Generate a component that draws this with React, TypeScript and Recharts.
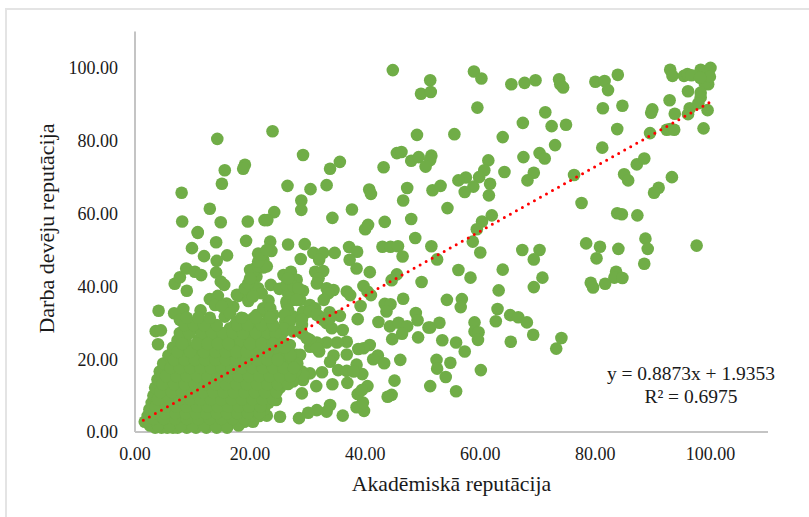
import { ScatterChart, Scatter, XAxis, YAxis, Label } from 'recharts'

const FONT = '"Liberation Serif", "Times New Roman", serif'
const TEXT = '#1a1a1a'
const AXIS = '#c4c4c4'
const GREEN = '#70ad47'

const xTicks = [0, 20, 40, 60, 80, 100]
const yTicks = [0, 20, 40, 60, 80, 100]

// scattered points, upper part of the plot
const upperX = [44.8,51.3,49.7,51.4,23.9,14.3,49,55.5,29.2,35.6,33.9,15.6,19.1,18.8,43.2,45.5,46.3,48,49.3,51.5,51.3,50.5,15.1,8.1,26.5,30.5,33.3,40.7,41,47.3,51.7,53.1,28.9,28.9,13,8.2,14.9,19.6,24.2,22.5,23,34.3,37.7,43.4,48,46.6,54.3,10.9,40.5,40]
const upperY = [99.4,96.6,92.9,93.4,82.6,80.5,81.6,81.8,76.1,74.2,72.3,71.9,73.4,72.3,72.7,76.6,76.9,74.5,75.5,75.9,74.7,72.9,68.2,65.7,67.6,66.7,67.8,66.6,65.4,67,66.4,67.6,63.6,61,61.3,57.8,57.6,57.8,60.4,58.2,58.2,58.8,61.1,57.7,58.5,63.6,61.5,54.9,56.9,55.7]

// upper right, including the clump near 100
const rightX = [58.9,60.2,65.4,67.7,69.6,73.7,73.9,74.4,80,81.6,82.2,83.9,93,93.4,95.4,96,96.7,98.3,100,98.7,99.3,99.6,99,99.9,98.2,96.1,98.3,98.3,59.5,81.3,84.7,89.9,89.7,92.9,93.8,71.3,67.4,72.4,74.9,83.8,89.5,92.4,93,93.7,96.4,96.1,97.9,99.5,98.8,63.9,73,81.2,67.5,70.3,71.2,61.4,60.7,59.8,57.5,56.2,64.2,69.3,68.2,76.3,85,85.7,87.2,88.5,93.3,91,90.2,61.7,58.8,57.3,61.5,77.6,83.8,84.6,87.3,62,60.3,59.4]
const rightY = [99,97.1,95.5,95.9,96.6,96.9,95.5,94.6,96.2,96.4,93.9,98.1,99.5,97.8,97.8,98.3,98,99.5,100,98,96.9,95.5,95.8,97.6,97.3,93.6,93.2,91.9,89.1,88.9,89.6,88.6,87.7,91.1,87.4,87.8,84.9,84,84.4,83.2,82.1,83,83.2,83,88.9,87.3,90.3,88.4,83.4,81,78.8,78.1,75.5,76.6,75.1,74.6,71.9,70,69.9,69.1,71.4,71.2,69.1,70.6,70.8,69.1,73.5,75.1,70,67.1,65.7,68.2,67.4,65.9,65,62.9,60.1,59.8,59.5,59.5,57.8,55.7]

// lower right of the plot
const lowerX = [51.5,58.7,60,52.5,67.3,70.3,69.3,78.4,80.8,84,88.7,89.1,97.6,80.2,88.5,56.2,58.3,63.9,70.8,69.3,63.2,83.6,83.3,84.7,81.7,79.2,79.6,54.2,56.8,56.6,63,65.2,66.6,68.1,62.7,69.2,65.3,74.1,73.2,52.9,51.3,59,59,59.7,59.6,53.4,55.8,57.3,52.4,54.8,52.5,54,60.1,51.3,55.8]
const lowerY = [51,52.3,49.3,47.4,50,50,47.4,51.8,50.9,50.3,53.1,50.3,51.2,47.7,46.2,44.5,42.4,44.6,42.4,39.8,38.9,44,42.4,42.3,40.7,41,39.7,36.3,36.5,34.3,33.8,32.1,31.5,30.1,30.4,26.7,24.8,25.8,22.9,30,28.7,30.1,27.6,27.4,25.3,25.2,24.6,22.1,19.8,19,17.4,15.1,17,12.6,11.2]

// middle of the plot
const midX = [10.9,14.1,19.3,23.5,26.6,29.5,9.9,12,16,14.2,23.7,21.4,22.3,28.8,31,32.7,34.7,32,37.2,38.6,37.3,38.5,43,44.4,45.7,46.5,48.7,40.8,45.5,44.6,49.8,39.7,40.4,41,46.6,39.2,43.4,44.4,43.7,38.7,35.6,42.3,44.3,45.8,47.3,46.4,44.7,48.8,49.1,51,49.2,40.8,39.7,38.8,42.2,41.4,43.3,46.1,45.1,44.6,43.9,36.1,39.8,38.5,39.6,38.7,40.4,39.4,39.5,38.5,36.8,36.8,35.1,33.3,31.6,32,30.4,34.5,33.9,35.3,36.8,38,36.9,34.3,32.5,30.4,31.5,29,33.9,33.3,31.6,30.1,28.5,25.2,22.9,24.5]
const midY = [54.7,52.1,52.5,52.3,51.5,51.6,50.5,48.3,48.5,47,49.7,49,47.3,47.5,49.2,49.2,49.2,47.3,50.8,49.5,47.3,44.9,50.9,50.9,51,48.2,53.3,43.9,43.3,41.7,41.2,40.1,38.6,37.6,36.6,34.6,35.2,35.1,33.1,31,31.9,30.2,29,30,29,27,25.5,32.7,30.7,28.7,26,23.9,23,22.8,21,20,18.9,19.8,14.1,10.2,9.7,4.5,5.8,6.8,8.1,10.4,12.6,11.5,15.9,18.5,21.3,24.8,24.6,24.6,24.6,22.1,23.4,21,19.3,17,16.8,16.6,13.5,13.1,16.4,16.1,12.6,10.6,7.4,5.6,6,5.3,3.8,4.2,4.5,8.8]

// the branching clumps left of the trend line
const clumpX = [4.1,3.6,4.5,4,9,6.9,7.8,8.9,10.4,11.5,14.1,15.5,14.9,13,11.4,8.4,6.8,13,14.4,15.6,17.1,15.9,18,19.4,21.4,19.7,20.6,20,20.9,22.3,21.1,23.6,25.1,25.8,27.1,28.1,26.9,29.2,27.5,28.7,26.4,23.2,22.6,23.5,21.1,18.8,19.4,17.4,17.1,26.9,27.5,26.1,29,30.4,31.3,29.5,32.1,33.8,33.3,34.2,36.1,31.3,32.7,31.9,31.6,33.3,34.5,33.6,32.8,36.8,37.4,30.4,29,26.9,28.1,26.4,24.6,29]
const clumpY = [33.3,27.7,27.9,24.1,38.8,40.7,42.5,44.9,44,43.1,43.8,40.4,41.3,29.8,33.4,33.8,32.6,36.5,37.4,31.7,34.4,35.3,37.4,38.1,39.5,36,41.8,44.5,45,45.2,42.7,40.4,39.3,43.1,44,41.8,40.8,38.8,38.6,36.3,34.9,36.1,33.1,31.2,32.1,31.2,28.5,29.4,26.6,32.1,31.7,30.3,29.4,34.9,34,32.6,31.7,32.9,29.9,28.5,28,44,44.2,42.2,40.8,39.5,39,38.1,36.3,38.6,37.6,25.3,27.1,23.9,21.2,18.4,19.3,16.6]

// bridges that join the clumps to the mass
const bridgeX = [7.8,9,10.7,9.6,11.6,13,13.9,15.1,16.5,17.7,16.5,17.7,17.7,19.1,20.8,22,20.5,19.7,20.6,21.4,22.9,20,21.4,22,22.9,22.3,23.5,24,22.9,21.1,19.4,22.3,24,25.8,20.5,24.9,26.3,27.5,26.6,26.3,27.5,26.6,28.4,28.1,26.6,26,26.9,25.8,27.5,29.2,30.4,29,31.6,32.7,33.9,29.8,31.6,28.7,26.9,28.1,26.3,24.6,29.2,27.5,29.2,24.6,25.8]
const bridgeY = [30.8,29.4,28.5,27.6,27.6,26.7,34.9,34.5,32.6,30.3,28.5,26.7,37.7,39.5,40,38.1,37.2,40.9,44.1,45.5,45.5,42.2,46.8,48.7,50,34,34,32.2,30.3,29.4,27.6,27.6,27.6,27.6,31.2,24.8,35.8,36.3,38.1,40.4,40,42.2,39.5,36.3,33.5,32.2,30.3,28.5,27.6,33.1,33.1,30.8,32.2,30.8,31.3,25.8,23,21.2,20.3,18.4,16.1,14.8,14.3,13.9,15.7,12,13.9]

// solid mass in the lower left corner, estimated row by row
const denseY = [1.2, 2.8, 4.4, 6.2, 8, 10, 12.2, 14.4, 16.6, 18.8, 21, 23.2, 25.2, 27.2, 29.4, 31.4]
const denseX = [
  [3.5,4.6,5.6,6.6,7.4,9,10.6,12.4,14.2,16],
  [1.7,3,5,7,9,11,13,15,17,19,20.5],
  [2.2,4.2,6,8,10,12,14,16,18,20,21.6],
  [2.5,4.4,6.2,8,9.8,11.6,13.4,15.2,17,18.8,20.6,22.4],
  [2.9,5,6.8,8.6,10.4,12.2,14,15.8,17.6,19.4,21.2,23.2],
  [3.2,5.4,7.2,9,10.8,12.6,14.4,16.2,18,19.8,21.6,23.6],
  [3.5,5.6,7.4,9.2,11,12.8,14.6,16.4,18.2,20,21.8,23.6,25.2],
  [3.9,6,7.8,9.6,11.4,13.2,15,16.8,18.6,20.4,22.2,24,25.8,27.4],
  [4.3,6.4,8.2,10,11.8,13.6,15.4,17.2,19,20.8,22.6,24.4,26.2,27.8],
  [4.9,6.8,8.6,10.4,12.2,14,15.8,17.6,19.4,21.2,23,24.8,26.6,28.2],
  [5.8,7.6,9.4,11.2,13,14.8,16.6,18.4,20.2,22,23.8,25.6,27],
  [6.6,8.2,10,11.8,13.6,15.4,17.2,19,20.8,22.6,24.4,26],
  [7.4,8.8,11,13,14.8,16.6,18.4,20.2,22,24,25.4],
  [7.8,9.4,11.6,13.4,15.2,17,18.8,21,23,24.4],
  [8.6,10.2,12,14.2,17.8,19.6,22,24],
  [9,11,13,18.5,21,23.5],
]
const denseOffX = [
  [2.6,4,6,8,10,12,14,16,18],
  [3.2,5,7,9,11,13,15,17,19],
  [3.4,5.2,7,8.8,10.6,12.4,14.2,16,17.8,19.6,21.6],
  [3.6,5.4,7.2,9,10.8,12.6,14.4,16.2,18,19.8,21.8],
  [4,6,7.8,9.6,11.4,13.2,15,16.8,18.6,20.4,22.2,24],
  [4.4,6.4,8.2,10,11.8,13.6,15.4,17.2,19,20.8,22.6,24.6],
  [4.8,6.8,8.6,10.4,12.2,14,15.8,17.6,19.4,21.2,23,24.8,26.6],
  [5.4,7.2,9,10.8,12.6,14.4,16.2,18,19.8,21.6,23.4,25.2,27],
  [6.2,7.8,9.6,11.4,13.2,15,16.8,18.6,20.4,22.2,24,25.8,27.6],
  [6.8,8.6,10.4,12.2,14,15.8,17.6,19.4,21.2,23,24.8],
  [7.4,9.6,12,14,15.8,17.6,19.4,21.2,23],
  [8.2,10.8,12.6,14.4,16.2,20,22,24],
]
const denseOffY = [1.8, 3.6, 5.2, 7, 9, 11, 13.2, 15.4, 17.6, 19.8, 22, 24.2]

const allX = [...upperX, ...rightX, ...lowerX, ...midX, ...clumpX, ...bridgeX]
const allY = [...upperY, ...rightY, ...lowerY, ...midY, ...clumpY, ...bridgeY]
const points = [
  ...allX.map((x, i) => ({ x, y: allY[i] })),
  ...denseX.flatMap((row, i) => row.map(x => ({ x, y: denseY[i] }))),
  ...denseOffX.flatMap((row, i) => row.map(x => ({ x, y: denseOffY[i] }))),
]

const trendX = [1.45, 99.9]
const trendY = [3.22, 90.57]
const trend = trendX.map((x, i) => ({ x, y: trendY[i] }))

const tickStyle = { fontFamily: FONT, fontSize: 18, fill: TEXT }
const fmt = (n: number) => n.toFixed(2)

export default function App() {
  return (
    <div style={{ position: 'absolute', left: 0, top: 0, width: 809, height: 517, background: '#fff', overflow: 'hidden' }}>
      {/* chart frame, only top and left edges are in the crop */}
      <div style={{ position: 'absolute', left: 5, top: 8, width: 900, height: 600, border: '2px solid #e4e4e4', boxSizing: 'border-box' }} />
      <ScatterChart width={809} height={517} margin={{ top: 31.5, right: 41, bottom: 0, left: 0 }} style={{ position: 'absolute', left: 0, top: 0 }}>
        <XAxis
          type="number"
          dataKey="x"
          domain={[0, 110]}
          ticks={xTicks}
          tickFormatter={fmt}
          height={85}
          tick={tickStyle}
          tickSize={0}
          tickMargin={15}
          axisLine={{ stroke: AXIS, strokeWidth: 2 }}
        >
          <Label value="Akadēmiskā reputācija" position="insideBottom" offset={26} style={{ fontFamily: FONT, fontSize: 21.7, fill: TEXT }} />
        </XAxis>
        <YAxis
          type="number"
          dataKey="y"
          domain={[0, 110]}
          ticks={yTicks}
          tickFormatter={fmt}
          width={135}
          tick={tickStyle}
          tickSize={0}
          tickMargin={17}
          axisLine={{ stroke: AXIS, strokeWidth: 2 }}
        >
          <Label value="Darba devēju reputācija" angle={-90} position={{ x: 54, y: 197 }} textAnchor="middle" verticalAnchor="middle" style={{ fontFamily: FONT, fontSize: 22, fill: TEXT, textAnchor: 'middle' }} />
        </YAxis>
        <Scatter data={points} fill={GREEN} isAnimationActive={false} shape={(p: any) => <circle cx={p.cx} cy={p.cy} r={6.3} fill={GREEN} />} />
        <Scatter
          data={trend}
          isAnimationActive={false}
          shape={() => <g />}
          line={{ stroke: '#ff0000', strokeWidth: 3, strokeDasharray: '0 6.9', strokeLinecap: 'round' }}
        />
      </ScatterChart>
      <div style={{ position: 'absolute', left: 591, top: 363, width: 200, textAlign: 'center', fontFamily: FONT, fontSize: 19.5, lineHeight: '22.5px', color: TEXT }}>
        y = 0.8873x + 1.9353
        <br />
        R² = 0.6975
      </div>
    </div>
  )
}
